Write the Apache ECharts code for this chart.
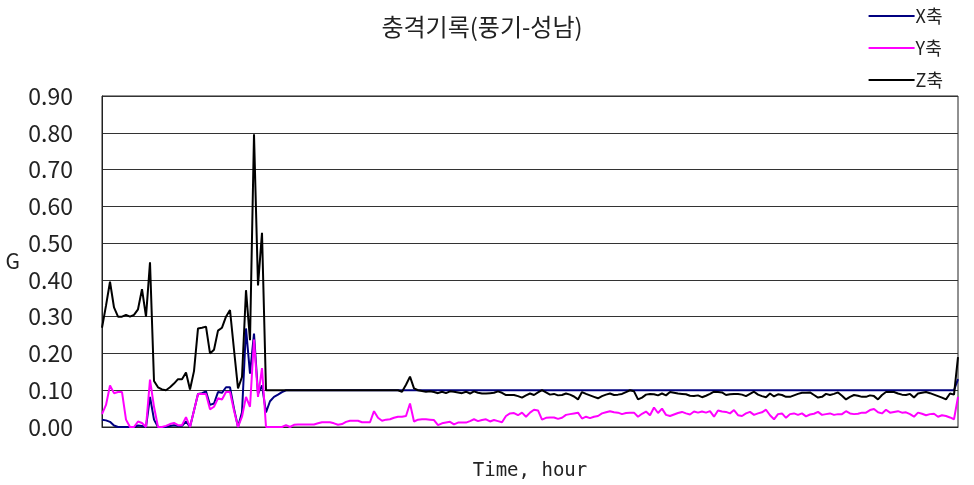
<!DOCTYPE html>
<html>
<head>
<meta charset="utf-8">
<script src="https://cdn.jsdelivr.net/npm/echarts@6/dist/echarts.min.js"></script>
<style>
  html, body { margin: 0; padding: 0; background: #fff; }
  #chart { width: 974px; height: 485px; }
</style>
</head>
<body>
<div id="chart"></div>
<script>
// Shock log, three accelerometer axes (G) over the run
const yTicks = [0, 0.1, 0.2, 0.3, 0.4, 0.5, 0.6, 0.7, 0.8, 0.9];

const xAxisG = [
  0.02, 0.018, 0.014, 0.004, 0, 0, 0, 0, 0, 0.004, 0.003, 0, 0.082, 0.02, 0, 0, 0, 0.003, 0.005, 0.003,
  0.003, 0.015, 0, 0.045, 0.09, 0.092, 0.097, 0.06, 0.064, 0.095, 0.093, 0.108, 0.108, 0.05, 0, 0.04, 0.268, 0.145, 0.254, 0.09,
  0.113, 0.04, 0.07, 0.082, 0.088, 0.095, 0.1, 0.1, 0.1, 0.1, 0.1, 0.1, 0.1, 0.1, 0.1, 0.1, 0.1, 0.1, 0.1, 0.1,
  0.1, 0.1, 0.1, 0.1, 0.1, 0.1, 0.1, 0.1, 0.1, 0.1, 0.1, 0.1, 0.1, 0.1, 0.1, 0.1, 0.1, 0.1, 0.1, 0.1,
  0.1, 0.1, 0.1, 0.1, 0.1, 0.1, 0.1, 0.1, 0.1, 0.1, 0.1, 0.1, 0.1, 0.1, 0.1, 0.1, 0.1, 0.1, 0.1, 0.1,
  0.1, 0.1, 0.1, 0.1, 0.1, 0.1, 0.1, 0.1, 0.1, 0.1, 0.1, 0.1, 0.1, 0.1, 0.1, 0.1, 0.1, 0.1, 0.1, 0.1,
  0.1, 0.1, 0.1, 0.1, 0.1, 0.1, 0.1, 0.1, 0.1, 0.1, 0.1, 0.1, 0.1, 0.1, 0.1, 0.1, 0.1, 0.1, 0.1, 0.1,
  0.1, 0.1, 0.1, 0.1, 0.1, 0.1, 0.1, 0.1, 0.1, 0.1, 0.1, 0.1, 0.1, 0.1, 0.1, 0.1, 0.1, 0.1, 0.1, 0.1,
  0.1, 0.1, 0.1, 0.1, 0.1, 0.1, 0.1, 0.1, 0.1, 0.1, 0.1, 0.1, 0.1, 0.1, 0.1, 0.1, 0.1, 0.1, 0.1, 0.1,
  0.1, 0.1, 0.1, 0.1, 0.1, 0.1, 0.1, 0.1, 0.1, 0.1, 0.1, 0.1, 0.1, 0.1, 0.1, 0.1, 0.1, 0.1, 0.1, 0.1,
  0.1, 0.1, 0.1, 0.1, 0.1, 0.1, 0.1, 0.1, 0.1, 0.1, 0.1, 0.1, 0.1, 0.1, 0.13
];

const yAxisG = [
  0.035, 0.06, 0.113, 0.092, 0.095, 0.095, 0.02, 0, 0, 0.015, 0.011, 0, 0.129, 0.055, 0, 0, 0.003, 0.008, 0.011, 0.005,
  0.005, 0.027, 0, 0.045, 0.09, 0.09, 0.09, 0.048, 0.055, 0.078, 0.075, 0.095, 0.095, 0.045, 0, 0.028, 0.082, 0.055, 0.238, 0.082,
  0.16, 0, 0, 0, 0, 0, 0.005, 0, 0.006, 0.007, 0.007, 0.007, 0.007, 0.007, 0.01, 0.013, 0.013, 0.013, 0.01, 0.006,
  0.008, 0.014, 0.017, 0.017, 0.017, 0.013, 0.013, 0.013, 0.043, 0.025, 0.017, 0.02, 0.021, 0.025, 0.028, 0.028, 0.03, 0.064, 0.015, 0.02,
  0.021, 0.021, 0.02, 0.019, 0.005, 0.01, 0.012, 0.014, 0.007, 0.012, 0.012, 0.012, 0.016, 0.021, 0.016, 0.019, 0.021, 0.015, 0.019, 0.016,
  0.013, 0.03, 0.037, 0.038, 0.032, 0.039, 0.028, 0.039, 0.047, 0.045, 0.02, 0.025, 0.026, 0.026, 0.022, 0.025, 0.033, 0.035, 0.037, 0.039,
  0.023, 0.028, 0.024, 0.028, 0.03, 0.037, 0.04, 0.043, 0.04, 0.039, 0.035, 0.038, 0.039, 0.039, 0.028, 0.036, 0.042, 0.032, 0.053, 0.038,
  0.05, 0.033, 0.03, 0.034, 0.038, 0.041, 0.037, 0.034, 0.042, 0.039, 0.042, 0.039, 0.043, 0.028, 0.045, 0.042, 0.041, 0.037, 0.046, 0.032,
  0.03, 0.037, 0.041, 0.033, 0.037, 0.04, 0.047, 0.032, 0.021, 0.035, 0.037, 0.025, 0.035, 0.037, 0.033, 0.037, 0.029, 0.034, 0.036, 0.041,
  0.033, 0.035, 0.037, 0.033, 0.035, 0.035, 0.043, 0.037, 0.035, 0.036, 0.039, 0.039, 0.046, 0.049, 0.04, 0.037, 0.047, 0.039, 0.041, 0.043,
  0.039, 0.04, 0.035, 0.028, 0.039, 0.036, 0.032, 0.035, 0.036, 0.028, 0.032, 0.03, 0.026, 0.021, 0.082
];

const zAxisG = [
  0.27, 0.33, 0.395, 0.325, 0.30, 0.30, 0.305, 0.30, 0.305, 0.32, 0.375, 0.30, 0.448, 0.125, 0.108, 0.102, 0.10, 0.108, 0.118, 0.13,
  0.13, 0.148, 0.102, 0.152, 0.268, 0.27, 0.273, 0.20, 0.21, 0.262, 0.27, 0.30, 0.318, 0.21, 0.105, 0.136, 0.372, 0.236, 0.796, 0.385,
  0.528, 0.10, 0.1, 0.1, 0.1, 0.1, 0.1, 0.1, 0.1, 0.1, 0.1, 0.1, 0.1, 0.1, 0.1, 0.1, 0.1, 0.1, 0.1, 0.1,
  0.1, 0.1, 0.1, 0.1, 0.1, 0.1, 0.1, 0.1, 0.1, 0.1, 0.1, 0.1, 0.1, 0.1, 0.1, 0.096, 0.115, 0.137, 0.105, 0.10,
  0.098, 0.096, 0.097, 0.095, 0.092, 0.096, 0.092, 0.097, 0.096, 0.094, 0.092, 0.096, 0.091, 0.097, 0.093, 0.091, 0.091, 0.092, 0.093, 0.097,
  0.093, 0.087, 0.087, 0.087, 0.084, 0.08, 0.086, 0.091, 0.087, 0.094, 0.10, 0.094, 0.088, 0.09, 0.086, 0.087, 0.091, 0.088, 0.083, 0.075,
  0.095, 0.09, 0.086, 0.082, 0.078, 0.084, 0.088, 0.091, 0.087, 0.088, 0.09, 0.095, 0.10, 0.097, 0.075, 0.08, 0.088, 0.09, 0.089, 0.086,
  0.091, 0.086, 0.095, 0.093, 0.091, 0.09, 0.089, 0.085, 0.084, 0.086, 0.081, 0.085, 0.09, 0.096, 0.095, 0.094, 0.087, 0.089, 0.09, 0.09,
  0.088, 0.084, 0.09, 0.096, 0.088, 0.084, 0.081, 0.091, 0.083, 0.089, 0.087, 0.082, 0.082, 0.086, 0.09, 0.093, 0.093, 0.094, 0.087, 0.08,
  0.082, 0.09, 0.087, 0.09, 0.094, 0.085, 0.075, 0.082, 0.087, 0.085, 0.082, 0.082, 0.086, 0.084, 0.075, 0.087, 0.095, 0.095, 0.095, 0.091,
  0.088, 0.087, 0.09, 0.08, 0.091, 0.093, 0.095, 0.092, 0.088, 0.084, 0.08, 0.075, 0.091, 0.088, 0.19
];

const categories = xAxisG.map((_, i) => String(i + 1));

const FONT = '"Noto Sans CJK KR", "Noto Sans", sans-serif';
const chart = echarts.init(document.getElementById('chart'), null, { renderer: 'canvas' });

chart.setOption({
  animation: false,
  backgroundColor: '#ffffff',
  title: {
    text: '충격기록(풍기-성남)',
    left: 477,
    top: 10,
    textAlign: 'center',
    textStyle: { fontFamily: FONT, fontSize: 24, fontWeight: 'normal', color: '#222' }
  },
  legend: {
    orient: 'vertical',
    right: 26,
    top: 1,
    itemWidth: 46,
    itemHeight: 2,
    itemGap: 12,
    icon: 'rect',
    textStyle: { fontFamily: FONT, fontSize: 18, lineHeight: 20, color: '#222', padding: [0, 0, 0, -4] },
    data: ['X축', 'Y축', 'Z축']
  },
  grid: {
    left: 102, right: 16, top: 96, bottom: 58,
    outerBoundsMode: 'none',
    containLabel: false,
    show: true, borderColor: '#222', borderWidth: 1
  },
  xAxis: {
    type: 'category',
    data: categories,
    boundaryGap: false,
    name: 'Time, hour',
    nameLocation: 'middle',
    nameGap: 35,
    nameTextStyle: { fontFamily: '"DejaVu Sans Mono", monospace', fontSize: 19, color: '#222' },
    axisLine: { lineStyle: { color: '#222', width: 1 } },
    axisTick: { show: false },
    axisLabel: { show: false },
    splitLine: { show: false }
  },
  yAxis: {
    type: 'value',
    min: yTicks[0],
    max: yTicks[yTicks.length - 1],
    interval: 0.1,
    name: 'G',
    nameLocation: 'middle',
    nameRotate: 0,
    nameGap: 82,
    nameTextStyle: { fontFamily: FONT, fontSize: 21, color: '#222', padding: [6, 0, 0, 0] },
    axisLine: { show: true, lineStyle: { color: '#222' } },
    axisTick: { show: false },
    axisLabel: {
      margin: 29,
      fontFamily: FONT,
      fontSize: 23,
      color: '#222',
      formatter: v => v.toFixed(2)
    },
    splitLine: { show: true, lineStyle: { color: '#333', width: 1 } }
  },
  series: [
    { name: 'X축', type: 'line', data: xAxisG, symbol: 'none', lineStyle: { color: '#000080', width: 2 }, itemStyle: { color: '#000080' } },
    { name: 'Y축', type: 'line', data: yAxisG, symbol: 'none', lineStyle: { color: '#ff00ff', width: 2 }, itemStyle: { color: '#ff00ff' } },
    { name: 'Z축', type: 'line', data: zAxisG, symbol: 'none', lineStyle: { color: '#000000', width: 2 }, itemStyle: { color: '#000000' } }
  ]
});
</script>
</body>
</html>
